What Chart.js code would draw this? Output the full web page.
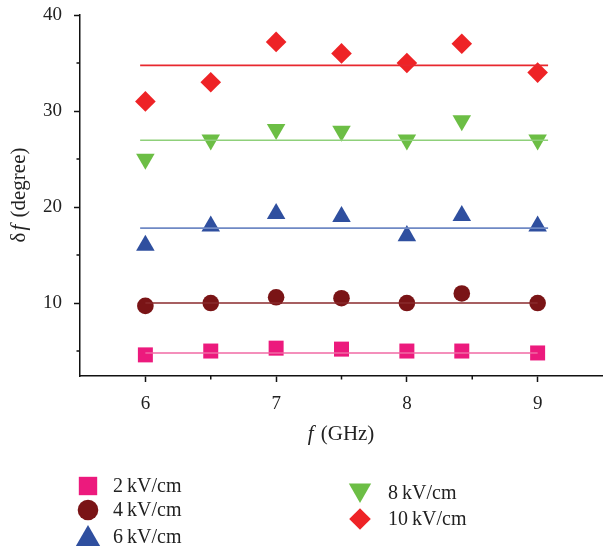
<!DOCTYPE html>
<html>
<head>
<meta charset="utf-8">
<script src="https://cdn.jsdelivr.net/npm/chart.js@4.4.0/dist/chart.umd.min.js"></script>
<style>
    html, body { margin: 0; padding: 0; background: #fff; overflow: hidden; }
    #wrap { width: 603px; height: 550px; position: relative; }
</style>
</head>
<body>
<div id="wrap"><canvas id="dfChart"></canvas></div>
<script>
// data
const freq = [6, 6.5, 7, 7.5, 8, 8.42, 9];
const field2 = [4.6, 5.0, 5.3, 5.2, 5.0, 5.0, 4.8];
const field4 = [9.7, 10.0, 10.6, 10.5, 10.0, 11.0, 10.0];
const field6 = [16.0, 18.0, 19.3, 19.0, 17.0, 19.1, 18.0];
const field8 = [25.0, 27.0, 28.1, 27.9, 27.0, 29.0, 27.0];
const field10 = [31.0, 33.0, 37.2, 36.0, 35.0, 37.0, 34.0];

// fitted (mean) lines
const fitXShort = [6, 9];
const fitXLong = [5.96, 9.08];
const fit2 = [4.8, 4.8];
const fit4 = [10.0, 10.0];
const fit6 = [17.8, 17.8];
const fit8 = [26.95, 26.95];
const fit10 = [34.75, 34.75];

const xTicks = [6, 6.5, 7, 7.5, 8, 8.5, 9];
const yTicks = [5, 10, 15, 20, 25, 30, 35, 40];
const xMajor = [6, 7, 8, 9];
const yMajor = [10, 20, 30, 40];

const seriesLabels = ["2\u2009kV/cm", "4\u2009kV/cm", "6\u2009kV/cm", "8\u2009kV/cm", "10\u2009kV/cm"];

const serif = "'Liberation Serif', 'DejaVu Serif', serif";

function pts(xs, ys) {
    return xs.map(function (x, i) { return { x: x, y: ys[i] }; });
}

function fitLine(xs, ys, color) {
    return {
        data: pts(xs, ys),
        showLine: true,
        borderColor: color,
        borderWidth: 1.6,
        pointRadius: 0,
        fill: false
    };
}

function markers(label, ys, color, style, radius, rotation) {
    return {
        label: label,
        data: pts(freq, ys),
        showLine: false,
        backgroundColor: color,
        borderColor: color,
        borderWidth: 0,
        pointStyle: style,
        pointRadius: radius,
        pointRotation: rotation || 0
    };
}

// no chart.js padding around the axes, the layout is fixed by hand
function noPad(scale) {
    scale.paddingLeft = 0;
    scale.paddingRight = 0;
    scale.paddingTop = 0;
    scale.paddingBottom = 0;
}

// legend is drawn by hand to get the two-column layout
const legendItems = [
    { x: 88, y: 486, tx: 113, ty: 492, style: "rect", r: 13, rot: 0, color: "#ec1a7d" },
    { x: 88, y: 510, tx: 113, ty: 516, style: "circle", r: 10.3, rot: 0, color: "#7a1416" },
    { x: 88, y: 539, tx: 113, ty: 543, style: "triangle", r: 14, rot: 0, color: "#2f4f9f" },
    { x: 360, y: 490, tx: 388, ty: 499, style: "triangle", r: 12.9, rot: 180, color: "#6cbe45" },
    { x: 360, y: 519, tx: 388, ty: 525, style: "rectRot", r: 10.8, rot: 0, color: "#ee2326" }
];

const decorPlugin = {
    id: "decor",
    afterDraw: function (chart) {
        const ctx = chart.ctx;
        const xs = chart.scales.x;
        const ys = chart.scales.y;
        ctx.save();

        // minor ticks
        ctx.strokeStyle = "#111";
        ctx.lineWidth = 1.5;
        ctx.beginPath();
        yTicks.forEach(function (v) {
            if (yMajor.indexOf(v) < 0) {
                const py = ys.getPixelForValue(v);
                ctx.moveTo(xs.left - 3.5, py);
                ctx.lineTo(xs.left, py);
            }
        });
        xTicks.forEach(function (v) {
            if (xMajor.indexOf(v) < 0) {
                const px = xs.getPixelForValue(v);
                ctx.moveTo(px, ys.bottom);
                ctx.lineTo(px, ys.bottom + 3.5);
            }
        });
        ctx.stroke();

        // axis titles
        const tf = "21px " + serif;
        const tfi = "italic 21px " + serif;
        ctx.fillStyle = "#222";
        ctx.textBaseline = "middle";
        ctx.font = tfi;
        const fW = ctx.measureText("f").width;
        ctx.font = tf;
        const restX = " (GHz)";
        const restW = ctx.measureText(restX).width;
        let sx = 341 - (fW + restW + 2) / 2;
        ctx.font = tfi;
        ctx.fillText("f", sx, 434);
        ctx.font = tf;
        ctx.fillText(restX, sx + fW + 2, 434);

        ctx.save();
        ctx.translate(19, 195);
        ctx.rotate(-Math.PI / 2);
        ctx.font = tf;
        const dW = ctx.measureText("\u03b4").width;
        const degW = ctx.measureText(" (degree)").width;
        ctx.font = tfi;
        const f2W = ctx.measureText("f").width;
        let tx = -(dW + f2W + degW + 4) / 2;
        ctx.font = tf;
        ctx.fillText("\u03b4", tx, 0);
        ctx.font = tfi;
        ctx.fillText("f", tx + dW + 2, 0);
        ctx.font = tf;
        ctx.fillText(" (degree)", tx + dW + f2W + 4, 0);
        ctx.restore();

        // legend
        ctx.textBaseline = "alphabetic";
        ctx.font = "20px " + serif;
        legendItems.forEach(function (it, i) {
            ctx.fillStyle = it.color;
            ctx.strokeStyle = it.color;
            Chart.helpers.drawPoint(ctx, { pointStyle: it.style, radius: it.r, rotation: it.rot, borderWidth: 0 }, it.x, it.y);
            ctx.fillStyle = "#222";
            ctx.fillText(seriesLabels[i], it.tx, it.ty);
        });
        ctx.restore();
    }
};

new Chart(document.getElementById("dfChart"), {
    type: "scatter",
    data: {
        datasets: [
            fitLine(fitXShort, fit2, "#f06aa5"),
            fitLine(fitXShort, fit4, "#8a2a2c"),
            fitLine(fitXLong, fit6, "#6f89c4"),
            fitLine(fitXLong, fit8, "#8fd07a"),
            fitLine(fitXLong, fit10, "#e8282e"),
            markers(seriesLabels[0], field2, "#ec1a7d", "rect", 10.6),
            markers(seriesLabels[1], field4, "#7a1416", "circle", 8.3),
            markers(seriesLabels[2], field6, "#2f4f9f", "triangle", 10.7),
            markers(seriesLabels[3], field8, "#6cbe45", "triangle", 10.7, 180),
            markers(seriesLabels[4], field10, "#ee2326", "rectRot", 10.3)
        ]
    },
    options: {
        responsive: true,
        maintainAspectRatio: false,
        animation: false,
        layout: {
            autoPadding: false,
            padding: { top: 15, right: 0, left: 0, bottom: 0 }
        },
        plugins: {
            legend: { display: false },
            tooltip: { enabled: false }
        },
        scales: {
            x: {
                type: "linear",
                min: 5.5,
                max: 9.5,
                afterBuildTicks: function (scale) {
                    scale.ticks = xTicks.map(function (v) { return { value: v }; });
                },
                afterFit: function (scale) {
                    scale.height = 174;
                    noPad(scale);
                },
                border: { color: "#111", width: 1.5 },
                grid: {
                    drawOnChartArea: false,
                    drawTicks: true,
                    tickLength: 6,
                    tickWidth: 1.5,
                    tickColor: function (c) {
                        return xMajor.indexOf(c.tick.value) >= 0 ? "#111" : "rgba(0,0,0,0)";
                    }
                },
                ticks: {
                    autoSkip: false,
                    maxRotation: 0,
                    padding: 11,
                    color: "#222",
                    font: { family: serif, size: 19 },
                    callback: function (value) {
                        return xMajor.indexOf(value) >= 0 ? String(value) : "";
                    }
                }
            },
            y: {
                type: "linear",
                min: 2.4,
                max: 40,
                afterBuildTicks: function (scale) {
                    scale.ticks = yTicks.map(function (v) { return { value: v }; });
                },
                afterFit: function (scale) {
                    scale.width = 80;
                    noPad(scale);
                },
                border: { color: "#111", width: 1.5 },
                grid: {
                    drawOnChartArea: false,
                    drawTicks: true,
                    tickLength: 6,
                    tickWidth: 1.5,
                    tickColor: function (c) {
                        return yMajor.indexOf(c.tick.value) >= 0 ? "#111" : "rgba(0,0,0,0)";
                    }
                },
                ticks: {
                    autoSkip: false,
                    padding: 12,
                    color: "#222",
                    font: { family: serif, size: 19 },
                    callback: function (value) {
                        return yMajor.indexOf(value) >= 0 ? String(value) : "";
                    }
                }
            }
        }
    },
    plugins: [decorPlugin]
});
</script>
</body>
</html>
